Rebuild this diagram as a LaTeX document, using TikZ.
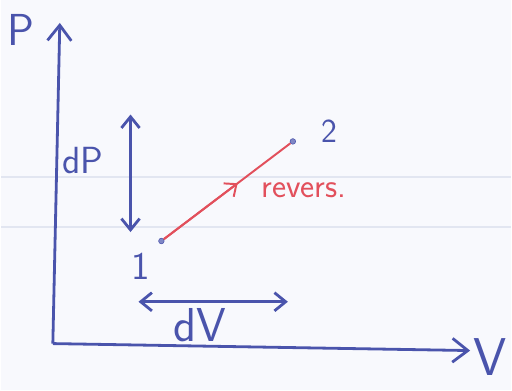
\documentclass[tikz,border=0pt]{standalone}
\usepackage{tikz}
\usetikzlibrary{arrows.meta,calc,positioning}
\definecolor{Ink}{HTML}{4A54AC}
\definecolor{RedInk}{HTML}{E2505C}
\definecolor{Paper}{HTML}{F8F9FD}
\definecolor{Rule}{HTML}{E2E6F1}

\begin{document}
\begin{tikzpicture}[x=0.25mm,y=-0.25mm,font=\sffamily,
      axis/.style={Ink,line width=2pt,-{Straight Barb[length=11pt,width=17pt]}},
      span/.style={Ink,line width=2pt,
                   {Straight Barb[length=8pt,width=13pt]}-{Straight Barb[length=8pt,width=13pt]}},
      state/.style={circle,draw=Ink,fill=Ink!70,inner sep=0pt,minimum size=4pt},
      lab/.style={text=Ink,inner sep=0pt},
      process/.style={RedInk,line width=1.4pt}]
    % paper and ruled lines
    \fill[Paper] (0,0) rectangle (512,392);
    \draw[Rule,line width=1.5pt] (0,178) -- (512,178);
    \draw[Rule,line width=1.5pt] (0,228) -- (512,228);

    % axes
    \coordinate (origin) at (52,345);
    \coordinate (ptop) at (59,23);
    \coordinate (vend) at (471,352);
    \draw[axis] (origin) -- (ptop);
    \draw[axis] (origin) -- (vend);
    \node[lab,font=\sffamily\fontsize{32}{32}\selectfont] (plab) at (20,30) {P};
    \node[lab,font=\sffamily\fontsize{38}{38}\selectfont] (vlab) at (491,358) {V};

    % states and the process
    \node[state] (s1) at (161,242) {};
    \node[state] (s2) at (293,142) {};
    \node[lab,font=\sffamily\fontsize{28}{28}\selectfont] (n1) at (140,267) {1};
    \node[lab,font=\sffamily\fontsize{24}{24}\selectfont] (n2) at (330,132) {2};
    \draw[process] (s1) -- (s2);
    \draw[process,-{Straight Barb[length=7pt,width=12pt]}] (s1) -- ($(s1)!0.58!(s2)$);
    \node[text=RedInk,inner sep=0pt,font=\sffamily\fontsize{24}{24}\selectfont]
      (rev) at (304,191) {revers.};

    % increments
    \coordinate (dptop) at (130,115);
    \coordinate (dpbot) at (130,233);
    \draw[span] (dpbot) -- (dptop);
    \node[lab,font=\sffamily\fontsize{27}{27}\selectfont] (dplab) at (82,161) {dP};
    \coordinate (dvl) at (138,303);
    \coordinate (dvr) at (288,303);
    \draw[span] (dvl) -- (dvr);
    \node[lab,font=\sffamily\fontsize{34}{34}\selectfont] (dvlab) at (200,327) {dV};
  \end{tikzpicture}
\end{document}
